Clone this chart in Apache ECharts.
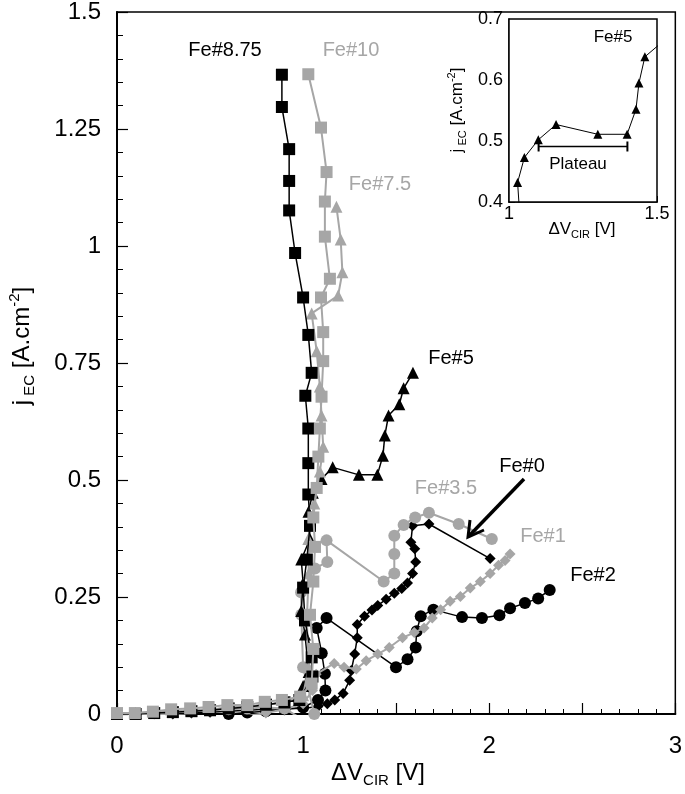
<!DOCTYPE html>
<html>
<head>
<meta charset="utf-8">
<script src="https://cdn.jsdelivr.net/npm/echarts@6/dist/echarts.min.js"></script>
<style>
html,body{margin:0;padding:0;background:#fff;}
#c{width:685px;height:794px;}
</style>
</head>
<body>
<div id="c"></div>
<script>
// ---- data (x = ΔV_CIR [V], y = j_EC [A.cm-2]) ----
const fe2 = [[0,-0.004],[0.1,-0.004],[0.2,-0.005],[0.3,-0.005],[0.4,-0.004],[0.5,-0.003],[0.6,0.0],[0.7,0.003],[0.8,0.006],[0.9,0.01],[1.0,0.014],[1.08,0.03],[1.12,0.05],[1.117,0.086],[1.1,0.13],[1.073,0.184],[1.126,0.205],[1.499,0.10],[1.561,0.117],[1.605,0.142],[1.61,0.177],[1.632,0.209],[1.70,0.223],[1.854,0.207],[1.961,0.205],[2.055,0.211],[2.112,0.226],[2.192,0.237],[2.263,0.247],[2.325,0.265]];
const fe0 = [[0,-0.002],[0.1,-0.002],[0.2,-0.002],[0.3,0.0],[0.4,0.002],[0.5,0.004],[0.6,0.006],[0.7,0.008],[0.8,0.01],[0.9,0.012],[1.0,0.012],[1.08,0.016],[1.13,0.022],[1.17,0.03],[1.215,0.044],[1.25,0.072],[1.259,0.093],[1.277,0.128],[1.291,0.163],[1.291,0.191],[1.33,0.209],[1.37,0.222],[1.401,0.232],[1.446,0.245],[1.49,0.258],[1.53,0.268],[1.561,0.28],[1.588,0.30],[1.605,0.325],[1.60,0.353],[1.579,0.367],[1.588,0.402],[1.676,0.406],[2.005,0.332]];
const fe1 = [[0,0.0],[0.1,0.0],[0.2,0.0],[0.3,-0.002],[0.4,-0.004],[0.5,-0.005],[0.6,-0.005],[0.7,-0.004],[0.8,0.002],[0.9,0.01],[1.0,0.022],[1.05,0.05],[1.07,0.085],[1.167,0.108],[1.22,0.1],[1.286,0.096],[1.339,0.114],[1.401,0.128],[1.463,0.142],[1.534,0.163],[1.597,0.174],[1.65,0.184],[1.694,0.205],[1.739,0.223],[1.79,0.241],[1.845,0.251],[1.898,0.269],[1.952,0.283],[2.005,0.30],[2.05,0.318],[2.085,0.328],[2.112,0.342]];
const fe35 = [[0,0.0],[0.1,0.0],[0.2,0.002],[0.3,0.004],[0.4,0.006],[0.5,0.008],[0.6,0.01],[0.7,0.012],[0.8,0.014],[0.9,0.012],[0.99,-0.01],[1.06,0.0],[1.0,0.1],[0.99,0.212],[0.989,0.26],[1.064,0.311],[1.13,0.325],[1.126,0.371],[1.433,0.283],[1.49,0.30],[1.49,0.342],[1.49,0.381],[1.54,0.404],[1.602,0.420],[1.676,0.430],[1.836,0.406],[2.014,0.374]];
const fe5 = [[0,0.0],[0.1,0.002],[0.2,0.004],[0.3,0.006],[0.4,0.008],[0.5,0.01],[0.6,0.013],[0.7,0.016],[0.8,0.02],[0.9,0.025],[0.98,0.03],[1.0,0.06],[1.03,0.09],[1.01,0.17],[0.99,0.22],[1.0,0.28],[0.99,0.33],[1.037,0.374],[1.029,0.432],[1.052,0.473],[1.099,0.502],[1.159,0.527],[1.30,0.511],[1.399,0.511],[1.429,0.552],[1.439,0.595],[1.459,0.638],[1.517,0.662],[1.54,0.696],[1.59,0.729]];
const fe75 = [[0,0.002],[0.1,0.002],[0.2,0.004],[0.3,0.006],[0.4,0.008],[0.5,0.01],[0.6,0.013],[0.7,0.016],[0.8,0.02],[0.9,0.026],[1.0,0.04],[1.03,0.1],[1.02,0.2],[1.03,0.3],[1.028,0.374],[1.06,0.45],[1.09,0.518],[1.108,0.571],[1.099,0.638],[1.09,0.7],[1.073,0.775],[1.046,0.856],[1.188,0.894],[1.211,0.944],[1.202,1.014],[1.179,1.084]];
const fe875 = [[0,0.0],[0.1,0.0],[0.2,0.002],[0.3,0.004],[0.4,0.006],[0.5,0.008],[0.6,0.012],[0.7,0.015],[0.8,0.02],[0.9,0.025],[0.98,0.03],[1.05,0.08],[1.046,0.121],[1.01,0.2],[1.0,0.27],[1.02,0.33],[1.037,0.402],[1.028,0.469],[1.028,0.536],[1.028,0.610],[1.012,0.68],[1.046,0.729],[1.028,0.810],[1.0,0.890],[0.957,0.985],[0.925,1.076],[0.925,1.139],[0.925,1.207],[0.886,1.297],[0.886,1.366]];
const fe10 = [[0,0.002],[0.096,0.002],[0.193,0.005],[0.291,0.01],[0.393,0.012],[0.492,0.015],[0.593,0.019],[0.70,0.019],[0.794,0.026],[0.886,0.03],[0.984,0.037],[1.046,0.065],[1.055,0.139],[1.037,0.212],[1.055,0.283],[1.064,0.357],[1.055,0.42],[1.073,0.483],[1.082,0.55],[1.09,0.61],[1.099,0.678],[1.108,0.754],[1.108,0.816],[1.096,0.890],[1.144,0.930],[1.117,1.020],[1.117,1.095],[1.126,1.158],[1.096,1.253],[1.028,1.367]];
const plateauX = [1.10, 1.40];
const plateauY = 0.491;
const mainXTicks = [0,1,2,3];
const mainYTicks = ['0','0.25','0.5','0.75','1','1.25','1.5'];
const insetXTicks = ['1','1.5'];
const insetYTicks = ['0.4','0.5','0.6','0.7'];

const BLACK = '#000000';
const GRAY = '#a6a6a6';
const FONT = '"Liberation Sans", Arial, Helvetica, sans-serif';

const chart = echarts.init(document.getElementById('c'), null, {renderer:'canvas'});

function ser(name, data, symbol, color, size, lw, z, grid){
  return {
    name: name, type: 'line', data: data,
    xAxisIndex: grid, yAxisIndex: grid,
    symbol: symbol, symbolSize: size, showAllSymbol: true,
    itemStyle: {color: color, borderWidth: 0},
    lineStyle: {color: color, width: lw},
    z: z, animation: false, clip: true,
    emphasis: {disabled: true}
  };
}

const axisCommon = {
  axisLine: {show: true, lineStyle: {color: BLACK, width: 2}},
  splitLine: {show: false},
  axisLabel: {color: BLACK, fontFamily: FONT},
};

const option = {
  backgroundColor: '#fff',
  animation: false,
  grid: [
    {left: 117, top: 3, right: 5, bottom: 80, show: true, borderColor: BLACK, borderWidth: 1.5, backgroundColor: 'transparent', containLabel: false},
    {left: 509, top: 19, width: 148, height: 183, show: true, borderColor: BLACK, borderWidth: 1.5, backgroundColor: '#fff', z: 10}
  ],
  xAxis: [
    Object.assign({}, axisCommon, {
      gridIndex: 0, type: 'value', min: 0, max: 3, interval: 0.5,
      axisTick: {show: true, inside: true, length: 11, lineStyle: {color: BLACK, width: 1.2}},
      minorTick: {show: true, splitNumber: 5, length: 5, lineStyle: {color: BLACK, width: 1}},
      axisLabel: {color: BLACK, fontFamily: FONT, fontSize: 24, margin: 20,
        formatter: function(v){ return mainXTicks.indexOf(v) >= 0 ? String(v) : ''; }}
    }),
    Object.assign({}, axisCommon, {
      gridIndex: 1, type: 'value', min: 1, max: 1.5, interval: 0.5,
      axisLine: {show: true, lineStyle: {color: BLACK, width: 1.5}},
      axisTick: {show: true, inside: true, length: 6, lineStyle: {color: BLACK, width: 1}},
      minorTick: {show: true, splitNumber: 10, length: 4, lineStyle: {color: BLACK, width: 1}},
      axisLabel: {color: BLACK, fontFamily: FONT, fontSize: 18, margin: 3,
        formatter: function(v){ const s = String(v); return insetXTicks.indexOf(s) >= 0 ? s : ''; }}
    })
  ],
  yAxis: [
    Object.assign({}, axisCommon, {
      gridIndex: 0, type: 'value', min: 0, max: 1.5, interval: 0.25,
      axisTick: {show: true, inside: true, length: 11, lineStyle: {color: BLACK, width: 1.2}},
      minorTick: {show: true, splitNumber: 5, length: 6, lineStyle: {color: BLACK, width: 1}},
      axisLabel: {color: BLACK, fontFamily: FONT, fontSize: 24, margin: 16,
        formatter: function(v){ const s = String(v); return mainYTicks.indexOf(s) >= 0 ? s : ''; }}
    }),
    Object.assign({}, axisCommon, {
      gridIndex: 1, type: 'value', min: 0.4, max: 0.7, interval: 0.1,
      axisLine: {show: true, lineStyle: {color: BLACK, width: 1.5}},
      axisTick: {show: true, inside: true, length: 6, lineStyle: {color: BLACK, width: 1}},
      minorTick: {show: true, splitNumber: 10, length: 4, lineStyle: {color: BLACK, width: 1}},
      axisLabel: {color: BLACK, fontFamily: FONT, fontSize: 18, margin: 6,
        formatter: function(v){ const s = String(Math.round(v*10)/10); return insetYTicks.indexOf(s) >= 0 ? s : ''; }}
    })
  ],
  series: [
    ser('Fe#2', fe2, 'circle', BLACK, 12, 1.5, 2, 0),
    ser('Fe#0', fe0, 'diamond', BLACK, 11, 1.5, 3, 0),
    ser('Fe#1', fe1, 'diamond', GRAY, 11, 2, 4, 0),
    ser('Fe#3.5', fe35, 'circle', GRAY, 12, 2, 5, 0),
    ser('Fe#5', fe5, 'triangle', BLACK, 12, 1.5, 6, 0),
    ser('Fe#7.5', fe75, 'triangle', GRAY, 12, 2, 7, 0),
    ser('Fe#8.75', fe875, 'rect', BLACK, 12, 1.5, 8, 0),
    ser('Fe#10', fe10, 'rect', GRAY, 12, 2, 9, 0),
    ser('Fe#5 inset', fe5, 'triangle', BLACK, 9, 1, 20, 1),
    {
      name: 'Plateau', type: 'line', xAxisIndex: 1, yAxisIndex: 1, z: 21,
      data: plateauX.map(function(x){ return [x, plateauY]; }),
      symbol: 'rect', symbolSize: [2, 10], showAllSymbol: true,
      itemStyle: {color: BLACK}, lineStyle: {color: BLACK, width: 1.5},
      animation: false, emphasis: {disabled: true}
    }
  ],
  graphic: []
};

const lbl = (t, x, y, color, size) => ({
  type: 'text', x: x, y: y, z: 100, silent: true,
  style: {text: t, fill: color, font: (size||20) + 'px ' + FONT, align: 'center', verticalAlign: 'middle'}
});

option.graphic = [
  lbl('Fe#8.75', 225, 50, BLACK),
  lbl('Fe#10', 351, 50, GRAY),
  lbl('Fe#7.5', 380, 184, GRAY),
  lbl('Fe#5', 451, 358, BLACK),
  lbl('Fe#3.5', 446, 488, GRAY),
  lbl('Fe#0', 522, 466, BLACK),
  lbl('Fe#1', 543, 536, GRAY),
  lbl('Fe#2', 593, 575, BLACK),
  lbl('Fe#5', 613, 37, BLACK, 17),
  lbl('Plateau', 578, 164, BLACK, 17),
  // arrow to Fe#0
  {type: 'line', z: 100, silent: true, shape: {x1: 524, y1: 479, x2: 469, y2: 536},
   style: {stroke: BLACK, lineWidth: 3.5}},
  {type: 'polyline', z: 100, silent: true, shape: {points: [[470,520],[468,537],[484,530]]},
   style: {stroke: BLACK, lineWidth: 3, fill: null}},
  // main x-axis title
  {type: 'text', x: 378, y: 773, z: 100, silent: true,
   style: {text: '{a|ΔV}{s|CIR}{a| [V]}', align: 'center', verticalAlign: 'middle',
     rich: {a: {fontSize: 24, fontFamily: FONT, fill: BLACK, verticalAlign: 'middle', lineHeight: 30},
            s: {fontSize: 15, fontFamily: FONT, fill: BLACK, verticalAlign: 'bottom', lineHeight: 30}}}},
  // main y-axis title
  {type: 'text', x: 22, y: 346, rotation: Math.PI/2, z: 100, silent: true,
   style: {text: '{a|j}{s| EC}{a| [A.cm}{p|-2}{a|]}', align: 'center', verticalAlign: 'middle',
     rich: {a: {fontSize: 24, fontFamily: FONT, fill: BLACK, verticalAlign: 'middle', lineHeight: 30},
            s: {fontSize: 15, fontFamily: FONT, fill: BLACK, verticalAlign: 'bottom', lineHeight: 30},
            p: {fontSize: 15, fontFamily: FONT, fill: BLACK, verticalAlign: 'top', lineHeight: 30}}}},
  // inset x-axis title
  {type: 'text', x: 582, y: 229, z: 100, silent: true,
   style: {text: '{a|ΔV}{s|CIR}{a| [V]}', align: 'center', verticalAlign: 'middle',
     rich: {a: {fontSize: 17, fontFamily: FONT, fill: BLACK, verticalAlign: 'middle', lineHeight: 22},
            s: {fontSize: 11, fontFamily: FONT, fill: BLACK, verticalAlign: 'bottom', lineHeight: 22}}}},
  // inset y-axis title
  {type: 'text', x: 457, y: 110, rotation: Math.PI/2, z: 100, silent: true,
   style: {text: '{a|j}{s| EC}{a| [A.cm}{p|-2}{a|]}', align: 'center', verticalAlign: 'middle',
     rich: {a: {fontSize: 17, fontFamily: FONT, fill: BLACK, verticalAlign: 'middle', lineHeight: 22},
            s: {fontSize: 11, fontFamily: FONT, fill: BLACK, verticalAlign: 'bottom', lineHeight: 22},
            p: {fontSize: 11, fontFamily: FONT, fill: BLACK, verticalAlign: 'top', lineHeight: 22}}}}
];

chart.setOption(option);
</script>
</body>
</html>
